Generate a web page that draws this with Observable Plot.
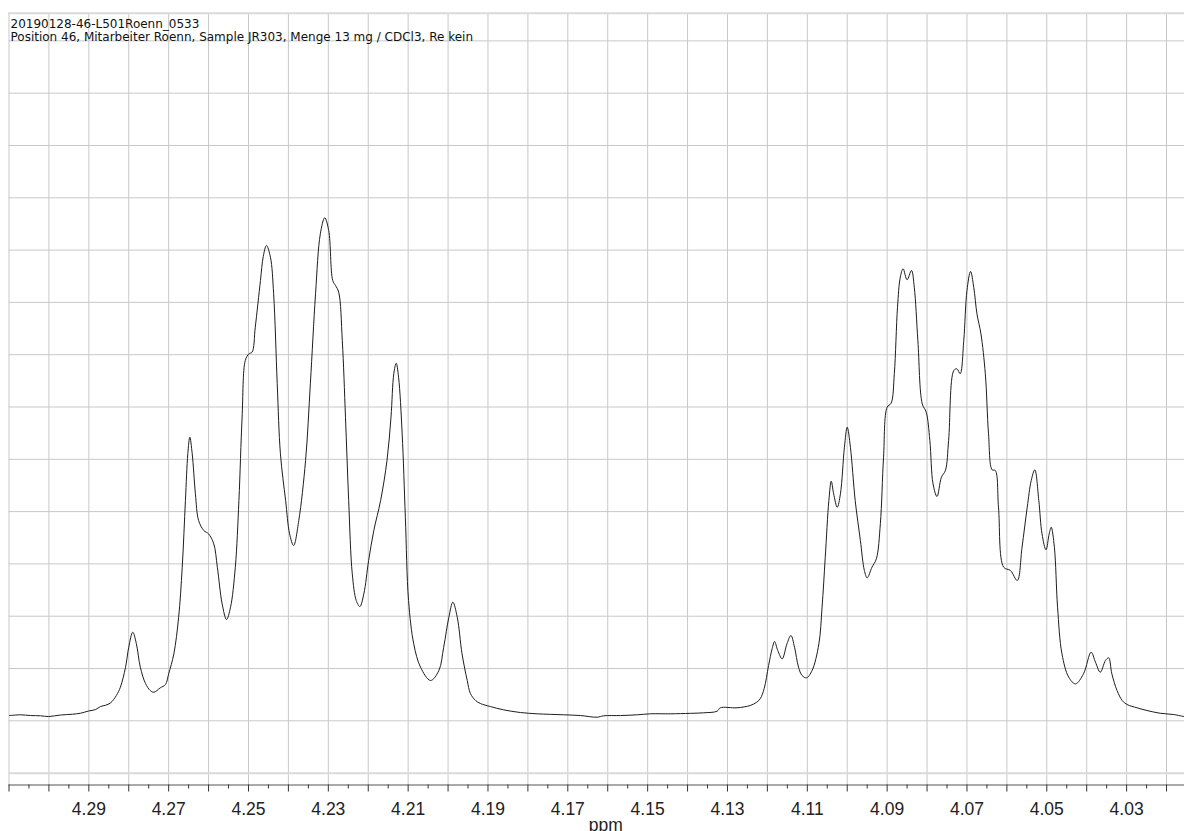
<!DOCTYPE html>
<html>
<head>
<meta charset="utf-8">
<script src="https://cdn.jsdelivr.net/npm/d3@7"></script>
<script src="https://cdn.jsdelivr.net/npm/@observablehq/plot@0.6"></script>
<style>
  html, body { margin: 0; padding: 0; background: #fff; }
  #chart { position: relative; width: 1184px; height: 831px; overflow: hidden; }
</style>
</head>
<body>
<div id="chart"></div>
<script>
// Title lines
const titleLines = [
  "20190128-46-L501Roenn_0533",
  "Position 46, Mitarbeiter Roenn, Sample JR303, Menge 13 mg / CDCl3, Re kein"
];
const axisLabel = "ppm";

// Chemical shift (ppm) and relative intensity
const ppm = [
  4.3099, 4.3071, 4.3046, 4.3021, 4.3001, 4.2971, 4.2941, 4.2921, 4.2901, 4.2883,
  4.2871, 4.2858, 4.2846, 4.2831, 4.2821, 4.2808, 4.2800, 4.2790, 4.2781, 4.2771,
  4.2758, 4.2746, 4.2737, 4.2721, 4.2708, 4.2700, 4.2687, 4.2675, 4.2666, 4.2658,
  4.2652, 4.2647, 4.2641, 4.2633, 4.2625, 4.2612, 4.2600, 4.2587, 4.2578, 4.2566,
  4.2555, 4.2545, 4.2533, 4.2524, 4.2516, 4.2508, 4.2499, 4.2491, 4.2483, 4.2470,
  4.2463, 4.2455, 4.2445, 4.2437, 4.2428, 4.2420, 4.2407, 4.2397, 4.2387, 4.2374,
  4.2357, 4.2345, 4.2332, 4.2320, 4.2309, 4.2299, 4.2289, 4.2282, 4.2274, 4.2265,
  4.2257, 4.2249, 4.2240, 4.2230, 4.2221, 4.2211, 4.2199, 4.2186, 4.2169, 4.2153,
  4.2143, 4.2136, 4.2130, 4.2124, 4.2115, 4.2107, 4.2099, 4.2086, 4.2069, 4.2044,
  4.2023, 4.2011, 4.1998, 4.1988, 4.1977, 4.1965, 4.1952, 4.1944, 4.1931, 4.1919,
  4.1894, 4.1861, 4.1819, 4.1777, 4.1744, 4.1710, 4.1668, 4.1627, 4.1610, 4.1568,
  4.1526, 4.1493, 4.1443, 4.1393, 4.1360, 4.1326, 4.1318, 4.1276, 4.1243, 4.1228,
  4.1218, 4.1208, 4.1197, 4.1188, 4.1182, 4.1174, 4.1163, 4.1151, 4.1141, 4.1132,
  4.1122, 4.1113, 4.1102, 4.1088, 4.1071, 4.1063, 4.1055, 4.1046, 4.1040, 4.1034,
  4.1025, 4.1017, 4.1007, 4.1000, 4.0992, 4.0980, 4.0967, 4.0957, 4.0950, 4.0938,
  4.0927, 4.0917, 4.0909, 4.0900, 4.0890, 4.0882, 4.0874, 4.0867, 4.0860, 4.0850,
  4.0839, 4.0832, 4.0823, 4.0812, 4.0802, 4.0793, 4.0785, 4.0775, 4.0764, 4.0754,
  4.0746, 4.0733, 4.0725, 4.0717, 4.0708, 4.0700, 4.0691, 4.0683, 4.0675, 4.0665,
  4.0654, 4.0646, 4.0637, 4.0629, 4.0621, 4.0608, 4.0591, 4.0574, 4.0562, 4.0549,
  4.0539, 4.0530, 4.0520, 4.0512, 4.0502, 4.0494, 4.0489, 4.0481, 4.0473, 4.0462,
  4.0445, 4.0428, 4.0408, 4.0389, 4.0378, 4.0366, 4.0353, 4.0345, 4.0337, 4.0324,
  4.0311, 4.0299, 4.0274, 4.0249, 4.0216, 4.0182, 4.0157
];
const intensity = [
  1.01, 1.15, 1.01, 0.96, 0.82, 1.11, 1.26, 1.45, 1.87, 2.16,
  2.73, 2.98, 3.40, 4.84, 6.42, 10.25, 14.07, 16.94, 14.78, 10.25,
  7.13, 5.79, 5.47, 6.31, 6.94, 8.99, 12.81, 19.81, 29.37, 42.12,
  51.05, 54.22, 51.05, 43.40, 38.30, 36.39, 35.75, 33.84, 29.37, 22.37,
  19.37, 21.72, 29.37, 42.12, 58.05, 68.89, 70.17, 70.48, 75.26, 84.19,
  88.77, 90.88, 88.64, 81.64, 64.43, 51.05, 42.12, 35.75, 33.52, 38.30,
  49.77, 64.43, 81.64, 93.11, 96.17, 93.75, 84.19, 83.23, 81.95, 72.71,
  58.05, 42.12, 28.11, 23.00, 21.85, 24.28, 30.65, 36.39, 42.12, 49.77,
  58.05, 66.35, 68.37, 65.70, 54.87, 38.93, 23.00, 14.72, 10.25, 7.71,
  9.62, 14.07, 19.81, 22.68, 19.81, 12.81, 7.71, 5.22, 3.88, 3.31,
  2.73, 2.10, 1.59, 1.34, 1.24, 1.15, 1.01, 0.69, 0.96, 1.01,
  1.15, 1.34, 1.34, 1.43, 1.53, 1.84, 2.49, 2.49, 2.93, 3.50,
  4.21, 6.18, 10.57, 13.82, 15.16, 13.44, 11.85, 14.72, 16.31, 14.07,
  10.25, 8.66, 8.22, 9.62, 14.72, 21.72, 31.28, 42.12, 45.81, 43.40,
  40.84, 43.40, 52.31, 56.14, 52.31, 42.12, 34.47, 28.74, 27.34, 29.37,
  30.97, 37.67, 50.40, 59.96, 60.73, 66.35, 79.08, 84.82, 86.42, 84.32,
  86.10, 82.90, 72.71, 60.61, 59.00, 53.59, 45.31, 42.89, 46.58, 47.86,
  53.59, 66.98, 67.30, 66.35, 72.71, 82.27, 85.91, 82.90, 77.82, 73.99,
  66.35, 54.87, 47.99, 47.86, 40.84, 29.37, 28.74, 26.83, 33.19, 40.84,
  45.95, 47.99, 42.12, 35.75, 32.70, 35.75, 37.02, 33.19, 21.72, 12.81,
  8.34, 7.07, 8.99, 13.12, 11.20, 9.29, 11.53, 12.05, 8.99, 5.79,
  3.88, 3.12, 2.49, 1.97, 1.45, 1.20, 0.82
];

// Axis / grid values
const xDomain = [4.31, 4.0155];
const yDomain = [-12.27, 135.29];
const gridPpm = [4.31, 4.30, 4.29, 4.28, 4.27, 4.26, 4.25, 4.24, 4.23, 4.22,
  4.21, 4.20, 4.19, 4.18, 4.17, 4.16, 4.15, 4.14, 4.13, 4.12,
  4.11, 4.10, 4.09, 4.08, 4.07, 4.06, 4.05, 4.04, 4.03, 4.02];
const minorPpm = [4.305, 4.295, 4.285, 4.275, 4.265, 4.255, 4.245, 4.235, 4.225, 4.215,
  4.205, 4.195, 4.185, 4.175, 4.165, 4.155, 4.145, 4.135, 4.125, 4.115,
  4.105, 4.095, 4.085, 4.075, 4.065, 4.055, 4.045, 4.035, 4.025];
const labelPpm = [4.29, 4.27, 4.25, 4.23, 4.21, 4.19, 4.17, 4.15, 4.13, 4.11, 4.09, 4.07, 4.05, 4.03];
const gridIntensity = [0, 10, 20, 30, 40, 50, 60, 70, 80, 90, 100, 110, 120, 130];
const borderIntensity = [-10];

const data = ppm.map((p, i) => ({ppm: p, intensity: intensity[i]}));

const titleFont = "'DejaVu Sans', Verdana, sans-serif";
const tickFont = "'Liberation Sans', Arial, sans-serif";

const chart = Plot.plot({
  width: 1184,
  height: 831,
  marginLeft: 8.5,
  marginRight: 0,
  marginTop: 12.7,
  marginBottom: 46.5,
  style: {background: "#fff", overflow: "visible"},
  x: {domain: xDomain, axis: null},
  y: {domain: yDomain, axis: null},
  marks: [
    Plot.gridX(gridPpm, {stroke: "#c8c8c8", strokeOpacity: 1, strokeWidth: 1}),
    Plot.gridY(gridIntensity, {stroke: "#c8c8c8", strokeOpacity: 1, strokeWidth: 1}),
    Plot.gridY(borderIntensity, {stroke: "#dadada", strokeOpacity: 1, strokeWidth: 2}),
    Plot.frame({anchor: "top", stroke: "#dadada", strokeWidth: 2}),
    Plot.frame({anchor: "bottom", stroke: "#555", strokeWidth: 1}),
    Plot.axisX(gridPpm, {tickSize: 7, tickFormat: () => "", stroke: "#333", label: null}),
    Plot.axisX(minorPpm, {tickSize: 4, tickFormat: () => "", stroke: "#333", label: null}),
    Plot.axisX(labelPpm, {tickSize: 0, tickPadding: 18, fontSize: 17.5, fontFamily: tickFont,
      fill: "#222", label: null, tickFormat: d => d.toFixed(2)}),
    Plot.line(data, {x: "ppm", y: "intensity", stroke: "#1e1e1e", strokeWidth: 1, curve: "catmull-rom"}),
    Plot.text([axisLabel], {frameAnchor: "bottom", dx: 9, dy: 46, lineAnchor: "bottom",
      fontSize: 17.5, fontFamily: tickFont, fill: "#222"}),
    Plot.text([titleLines[0]], {frameAnchor: "top-left", dx: 1.5, dy: 14.5, lineAnchor: "bottom",
      textAnchor: "start", fontSize: 12, fontFamily: titleFont, fill: "#111"}),
    Plot.text([titleLines[1]], {frameAnchor: "top-left", dx: 1.5, dy: 28, lineAnchor: "bottom",
      textAnchor: "start", fontSize: 12, fontFamily: titleFont, fill: "#111"})
  ]
});
document.getElementById("chart").appendChild(chart);
</script>
</body>
</html>
